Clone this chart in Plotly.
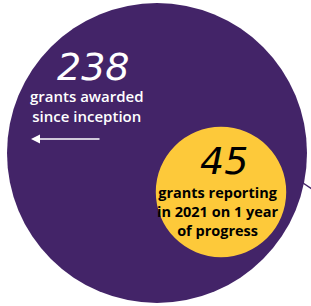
import plotly.graph_objects as go
import math

# Data
labels = ["grants awarded since inception", "grants reporting in 2021 on 1 year of progress"]
values = [238, 45]
value_text = ["238", "45"]
colors = ["#432468", "#fdc93a"]

W, H = 311, 306
big_r = 150  # radius of the largest circle in px
centers = [(157, 153), (221, 192)]
radii = [big_r * math.sqrt(v / max(values)) for v in values]

fig = go.Figure()
fig.add_trace(go.Scatter(x=[0, W], y=[0, H], mode="markers",
                         marker=dict(opacity=0), hoverinfo="skip", showlegend=False))
for (cx, cy), r, c in zip(centers, radii, colors):
    fig.add_shape(type="circle", xref="x", yref="y", x0=cx - r, x1=cx + r,
                  y0=cy - r, y1=cy + r, fillcolor=c, line=dict(width=0), layer="below")

# small connector line at right edge
fig.add_shape(type="line", x0=303, y0=183, x1=312, y1=189,
              line=dict(color="#432468", width=1.5), layer="above")

num_font = "DejaVu Sans"
body_font = "Open Sans"
fig.add_annotation(x=93, y=67, text=f"<i>{value_text[0]}</i>", showarrow=False,
                   font=dict(family=num_font, size=38, color="white"))
fig.add_annotation(x=87, y=106, text="grants awarded<br>since inception", showarrow=False,
                   font=dict(family=body_font, size=15, color="white", weight=600),
                   align="center")
fig.add_annotation(x=224, y=161, text=f"<i>{value_text[1]}</i>", showarrow=False,
                   font=dict(family=num_font, size=38, color="black"))
fig.add_annotation(x=218, y=211, text="grants reporting<br>in 2021 on 1 year<br>of progress",
                   showarrow=False,
                   font=dict(family=body_font, size=14.5, color="black", weight=700),
                   align="center")
fig.add_annotation(x=31, y=139, ax=101, ay=139, axref="x", ayref="y", xref="x", yref="y",
                   text="", showarrow=True, arrowhead=2, arrowsize=1.2, arrowwidth=1.5,
                   arrowcolor="white")

fig.update_layout(width=W, height=H, margin=dict(l=0, r=0, t=0, b=0),
                  paper_bgcolor="white", plot_bgcolor="white",
                  xaxis=dict(range=[0, W], visible=False, fixedrange=True),
                  yaxis=dict(range=[H, 0], visible=False, fixedrange=True))
fig.write_html("out.html", post_script="document.body.style.margin='0';document.body.style.overflow='hidden';",
               config={"displayModeBar": False})
